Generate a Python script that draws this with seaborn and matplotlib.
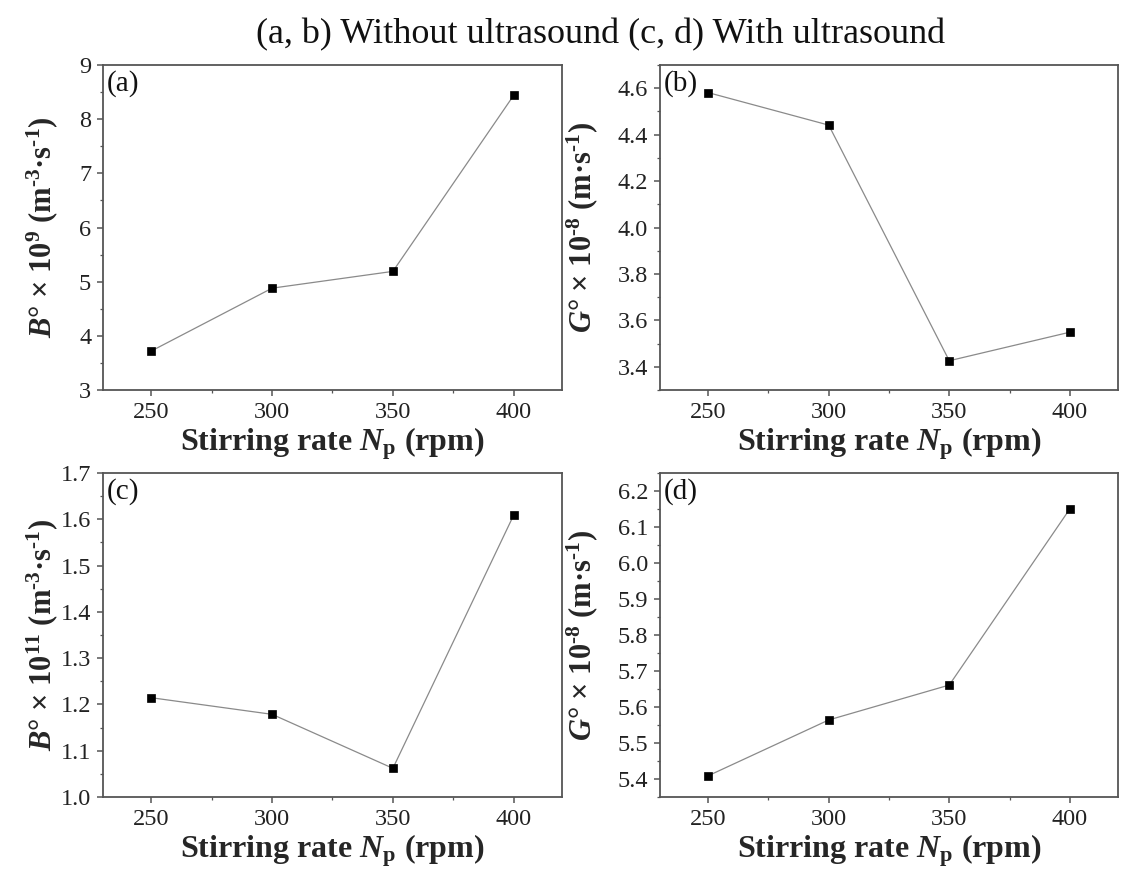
import matplotlib
matplotlib.use("Agg")
import matplotlib.pyplot as plt
import seaborn as sns
import pandas as pd
from matplotlib.ticker import MultipleLocator

# ---- data ----
stirring_rate = [250, 300, 350, 400]
B_without = [3.72, 4.88, 5.19, 8.44]        # B° x 10^9
G_without = [4.581, 4.441, 3.426, 3.549]    # G° x 10^-8
B_with = [1.2145, 1.1786, 1.062, 1.609]     # B° x 10^11
G_with = [5.409, 5.564, 5.661, 6.150]       # G° x 10^-8

panel_tags = ["(a)", "(b)", "(c)", "(d)"]
title_text = "(a, b) Without ultrasound (c, d) With ultrasound"
xlabel_text = r"Stirring rate $\mathbfit{N}_{\mathbf{p}}$ (rpm)"
ylabels = [
    r"$\mathbfit{B}$° × 10$^{\mathbf{9}}$ (m$^{\mathbf{‐3}}$·s$^{\mathbf{‐1}}$)",
    r"$\mathbfit{G}$° × 10$^{\mathbf{‐8}}$ (m·s$^{\mathbf{‐1}}$)",
    r"$\mathbfit{B}$° × 10$^{\mathbf{11}}$ (m$^{\mathbf{‐3}}$·s$^{\mathbf{‐1}}$)",
    r"$\mathbfit{G}$° × 10$^{\mathbf{‐8}}$ (m·s$^{\mathbf{‐1}}$)",
]
series = [B_without, G_without, B_with, G_with]
ylims = [(3, 9), (3.3, 4.7), (1.0, 1.7), (5.35, 6.25)]
ymajor = [1, 0.2, 0.1, 0.1]
yfmt = ["{:.0f}", "{:.1f}", "{:.1f}", "{:.1f}"]

sns.set_theme(style="white")
plt.rcParams["font.family"] = ["Liberation Serif", "DejaVu Serif"]
plt.rcParams["mathtext.fontset"] = "custom"
plt.rcParams["mathtext.rm"] = "Liberation Serif"
plt.rcParams["mathtext.it"] = "Liberation Serif:italic"
plt.rcParams["mathtext.bf"] = "Liberation Serif:bold"
plt.rcParams["mathtext.bfit"] = "Liberation Serif:italic:bold"

W, H = 1126, 875
fig = plt.figure(figsize=(W / 100, H / 100), dpi=100)
fig.patch.set_facecolor("white")

cols = [(103, 562), (660, 1118)]
rows = [(65, 390), (473, 797)]
frame_c = "#555555"

for i in range(4):
    r, c = divmod(i, 2)
    x0, x1 = cols[c]
    y0, y1 = rows[r]
    ax = fig.add_axes([x0 / W, 1 - y1 / H, (x1 - x0) / W, (y1 - y0) / H])
    ax.set_facecolor("white")
    df = pd.DataFrame({"x": stirring_rate, "y": series[i]})
    sns.lineplot(data=df, x="x", y="y", ax=ax, color="#8a8a8a", linewidth=0.9,
                 marker="s", markersize=6, markerfacecolor="black",
                 markeredgecolor="black", markeredgewidth=0.5)
    ax.set_xlim(230, 420)
    ax.set_ylim(*ylims[i])
    ax.xaxis.set_major_locator(MultipleLocator(50))
    ax.xaxis.set_minor_locator(MultipleLocator(25))
    ax.yaxis.set_major_locator(MultipleLocator(ymajor[i]))
    ax.yaxis.set_minor_locator(MultipleLocator(ymajor[i] / 2))
    lo, hi = ylims[i]
    ticks = [t for t in ax.get_yticks() if lo - 1e-9 <= t <= hi + 1e-9]
    ax.set_yticks(ticks)
    ax.set_yticklabels([yfmt[i].format(t) for t in ticks])
    ax.set_xticks(stirring_rate)
    ax.set_xticklabels([str(v) for v in stirring_rate])
    for s in ax.spines.values():
        s.set_color(frame_c)
        s.set_linewidth(1.3)
        s.set_visible(True)
    ax.tick_params(axis="both", which="major", direction="out", length=4.5,
                   width=1.1, color=frame_c, labelsize=17.5, labelcolor="#222222",
                   pad=4, bottom=True, left=True, top=False, right=False)
    ax.tick_params(axis="both", which="minor", direction="out", length=2.5,
                   width=0.9, color=frame_c, bottom=True, left=True,
                   top=False, right=False)
    ax.set_xlabel(xlabel_text, fontsize=23, fontweight="bold", labelpad=2)
    ax.set_ylabel(ylabels[i], fontsize=22, fontweight="bold")
    if c == 0:
        ax.yaxis.set_label_coords(-0.094, 0.5)
    else:
        ax.yaxis.set_label_coords(-0.131, 0.5)
    ax.text(0.008, 0.985, panel_tags[i], transform=ax.transAxes, fontsize=21,
            ha="left", va="top", color="#111111")

fig.text(0.533, 1 - 35 / H, title_text, fontsize=26, ha="center", va="center",
         color="#111111")

fig.savefig("out.png", dpi=100, facecolor="white")
